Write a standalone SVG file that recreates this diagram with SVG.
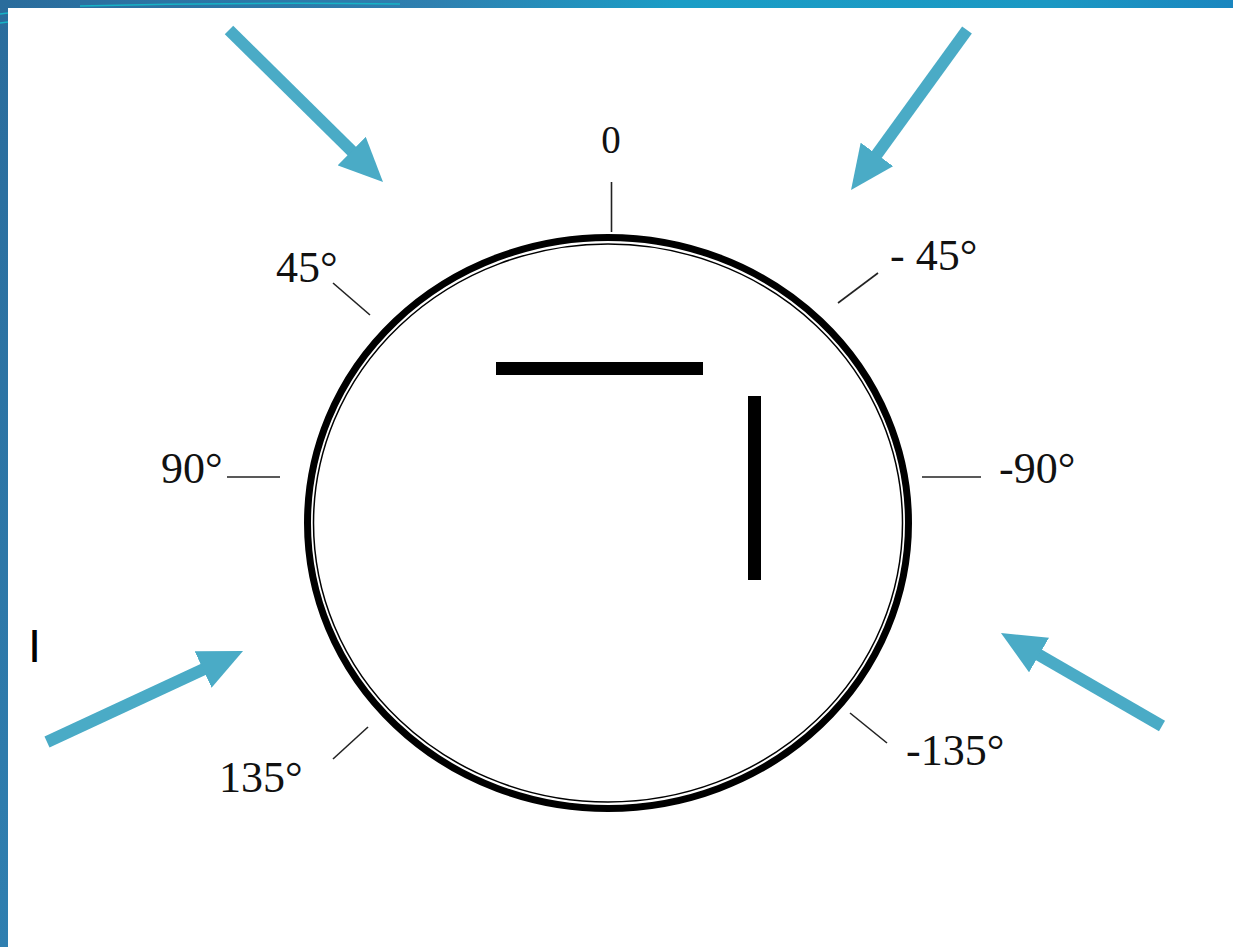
<svg xmlns="http://www.w3.org/2000/svg" width="1233" height="947" viewBox="0 0 1233 947">
<defs>
<linearGradient id="topbar" x1="0" y1="0" x2="1" y2="0">
<stop offset="0" stop-color="#2a6c9c"/>
<stop offset="0.35" stop-color="#2f80b0"/>
<stop offset="0.55" stop-color="#1a9dc6"/>
<stop offset="0.85" stop-color="#1b98c3"/>
<stop offset="1" stop-color="#1a86bf"/>
</linearGradient>
<linearGradient id="leftbar" x1="0" y1="0" x2="0" y2="1">
<stop offset="0" stop-color="#2a6c9c"/>
<stop offset="1" stop-color="#2f7fb0"/>
</linearGradient>
<marker id="ah" viewBox="0 0 44 40" markerUnits="userSpaceOnUse" markerWidth="44" markerHeight="40" refX="10" refY="20" orient="auto">
<path d="M0,0 L44,20 L0,40 z" fill="#4aabc6"/>
</marker>
<style>
.lbl{font-family:"Liberation Serif","Times New Roman",serif;font-size:44px;fill:#111}
.tick{stroke:#222;stroke-width:1.6;fill:none}
.arrow{stroke:#4aabc6;stroke-width:12;fill:none;marker-end:url(#ah)}
</style>
</defs>
<rect x="0" y="0" width="1233" height="947" fill="#ffffff"/>
<rect x="0" y="0" width="1233" height="8" fill="url(#topbar)"/>
<rect x="0" y="0" width="8" height="947" fill="url(#leftbar)"/>
<path d="M80,6 Q240,2 400,4" stroke="#17b3c6" stroke-width="1.5" fill="none"/>
<path d="M0,14 L8,13 M0,23 L8,22" stroke="#17b3c6" stroke-width="1.5" fill="none"/>

<g id="dial">
<ellipse cx="608" cy="523" rx="300.5" ry="285.5" fill="#ffffff" stroke="#000" stroke-width="7"/>
<ellipse cx="608" cy="523" rx="294.5" ry="279" fill="none" stroke="#000" stroke-width="1.5"/>
</g>
<g id="bars">
<rect x="496" y="362" width="207" height="13" fill="#000"/>
<rect x="748" y="396" width="13" height="184" fill="#000"/>
</g>
<g id="ticks">
<line class="tick" x1="611.5" y1="182" x2="611.5" y2="232"/>
<line class="tick" x1="333" y1="283" x2="370" y2="315"/>
<line class="tick" x1="878" y1="273" x2="838" y2="303"/>
<line class="tick" x1="227" y1="477" x2="280" y2="477"/>
<line class="tick" x1="922" y1="477" x2="981" y2="477"/>
<line class="tick" x1="333" y1="759" x2="368" y2="727"/>
<line class="tick" x1="850" y1="713" x2="887" y2="743"/>
</g>
<g id="labels">
<text class="lbl" x="611" y="153" text-anchor="middle" style="font-size:39px">0</text>
<text class="lbl" x="276" y="282">45°</text>
<text class="lbl" x="890" y="270">- 45°</text>
<text class="lbl" x="161" y="483">90°</text>
<text class="lbl" x="999" y="483">-90°</text>
<text class="lbl" x="219" y="792">135°</text>
<text class="lbl" x="906" y="765">-135°</text>
<text x="28" y="662" style="font-family:'Liberation Sans',Arial,sans-serif;font-size:47px;fill:#000">I</text>
</g>
<g id="connectors">
<line class="arrow" x1="229" y1="30" x2="358.8" y2="158.1"/>
<line class="arrow" x1="967" y1="30" x2="871" y2="162.5"/>
<line class="arrow" x1="47" y1="742" x2="212.2" y2="665.3"/>
<line class="arrow" x1="1162" y1="726" x2="1030.4" y2="650"/>
</g>
</svg>
